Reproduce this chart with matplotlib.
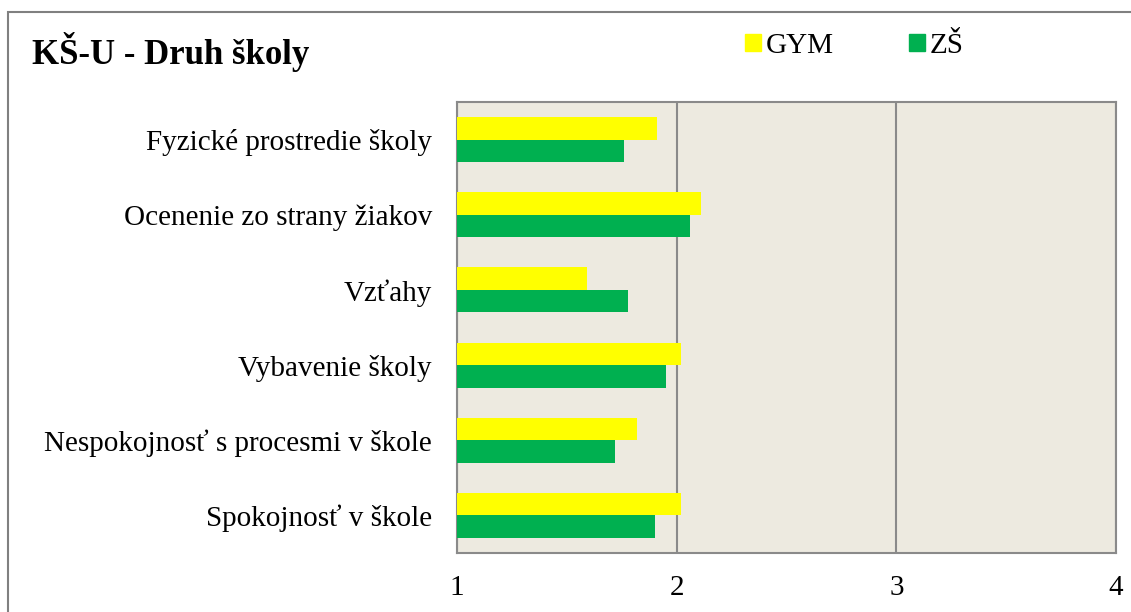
import numpy as np
import matplotlib
matplotlib.use('Agg')
import matplotlib.pyplot as plt
from matplotlib.patches import Rectangle, Patch

plt.rcParams['font.family'] = ['Liberation Serif', 'DejaVu Serif']

# data
categories = ['Fyzické prostredie školy', 'Ocenenie zo strany žiakov', 'Vzťahy',
              'Vybavenie školy', 'Nespokojnosť s procesmi v škole', 'Spokojnosť v škole']
gym = [1.91, 2.11, 1.59, 2.02, 1.82, 2.02]
zs = [1.76, 2.06, 1.78, 1.95, 1.72, 1.90]
x_ticks = [1, 2, 3, 4]

W, H = 1131, 612
fig = plt.figure(figsize=(W / 100, H / 100), dpi=100)
ax = fig.add_axes([457 / W, 1 - 553 / H, (1116 - 457) / W, (553 - 102) / H])

y = np.arange(len(categories))
h = 0.3
ax.barh(y - h / 2, [v - 1 for v in gym], height=h, left=1, color='#FFFF00', zorder=3)
ax.barh(y + h / 2, [v - 1 for v in zs], height=h, left=1, color='#00B050', zorder=3)

ax.set_facecolor('#EDEAE0')
ax.set_xlim(1, 4)
ax.set_ylim(len(categories) - 0.5, -0.5)
ax.set_xticks(x_ticks)
ax.set_xticklabels([str(t) for t in x_ticks], fontsize=21)
ax.set_yticks(y)
ax.set_yticklabels(categories, fontsize=21)
ax.tick_params(axis='both', length=0)
ax.tick_params(axis='x', pad=16)
ax.tick_params(axis='y', pad=18)
ax.xaxis.grid(True, color='#8A8A8A', lw=1.5, zorder=1)
for s in ax.spines.values():
    s.set_color('#8A8A8A')
    s.set_linewidth(1.5)

# outer chart frame
fig.patches.append(Rectangle((8 / W, -0.05), 1.1, 1 - 12 / H + 0.05, transform=fig.transFigure,
                             fill=False, edgecolor='#808080', lw=1.5))

fig.text(32 / W, 1 - 52 / H, 'KŠ-U - Druh školy', fontsize=25, fontweight='bold', va='center')

handles = [Patch(color='#FFFF00'), Patch(color='#00B050')]
fig.legend(handles, ['GYM', 'ZŠ'], loc='center left', bbox_to_anchor=(745 / W, 1 - 46 / H),
           ncol=2, frameon=False, fontsize=21, handlelength=0.55, handleheight=0.55,
           handletextpad=0.15, columnspacing=2.6, borderpad=0, borderaxespad=0)

fig.savefig('out.png', dpi=100)
